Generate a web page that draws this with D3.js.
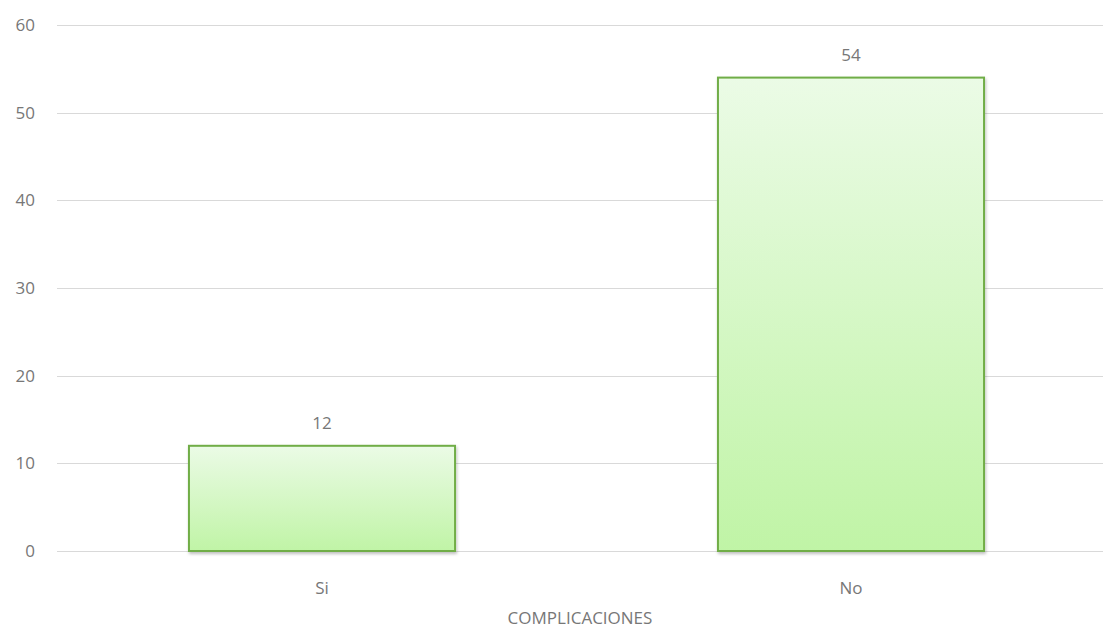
<!DOCTYPE html>
<html><head><meta charset="utf-8">
<script src="https://cdn.jsdelivr.net/npm/d3@7"></script>
<style>body{margin:0;background:#fff}svg{display:block}text{font-family:"Open Sans",sans-serif;fill:#777777}</style>
</head><body><svg id="c" width="1103" height="630"></svg>
<script>
const categories = ["Si", "No"];
const values = [12, 54];
const yTicks = [0, 10, 20, 30, 40, 50, 60];
const axisTitle = "COMPLICACIONES";

const svg = d3.select("#c");
const x = d3.scaleBand().domain(categories).range([57.5, 1115.5]).paddingInner(0.497).paddingOuter(0.2485);
const y = d3.scaleLinear().domain([0, 60]).range([551, 25]);

const defs = svg.append("defs");
const g = defs.append("linearGradient").attr("id","gr").attr("x1",0).attr("y1",0).attr("x2",0).attr("y2",1);
g.append("stop").attr("offset","0%").attr("stop-color","#ebfbe6");
g.append("stop").attr("offset","100%").attr("stop-color","#c0f4a6");
const f = defs.append("filter").attr("id","sh").attr("x","-5%").attr("y","-5%").attr("width","110%").attr("height","110%");
f.append("feDropShadow").attr("dx",1).attr("dy",2).attr("stdDeviation",1.5).attr("flood-color","#000").attr("flood-opacity",0.25);

svg.append("g").selectAll("line").data(yTicks).join("line")
  .attr("x1",57).attr("x2",1103).attr("y1",d=>Math.round(y(d))+0.5).attr("y2",d=>Math.round(y(d))+0.5)
  .attr("stroke","#d9d9d9").attr("stroke-width",1);

svg.append("g").selectAll("text").data(yTicks).join("text")
  .attr("x",35).attr("y",d=>y(d)).attr("dy","0.35em").attr("text-anchor","end")
  .attr("font-size",17).text(d=>d);

svg.append("g").selectAll("rect").data(values).join("rect")
  .attr("x",(d,i)=>x(categories[i])).attr("width",x.bandwidth())
  .attr("y",d=>y(d)).attr("height",d=>y(0)-y(d))
  .attr("fill","url(#gr)").attr("stroke","#70ad47").attr("stroke-width",2)
  .attr("filter","url(#sh)");

svg.append("g").selectAll("text").data(values).join("text")
  .attr("x",(d,i)=>x(categories[i])+x.bandwidth()/2).attr("y",d=>y(d)-23).attr("dy","0.35em")
  .attr("text-anchor","middle").attr("font-size",17).text(d=>d);

svg.append("g").selectAll("text").data(categories).join("text")
  .attr("x",d=>x(d)+x.bandwidth()/2).attr("y",588).attr("dy","0.35em")
  .attr("text-anchor","middle").attr("font-size",17).text(d=>d);

svg.append("text").attr("x",580).attr("y",618).attr("dy","0.35em").attr("text-anchor","middle")
  .attr("font-size",17).text(axisTitle);
</script></body></html>
